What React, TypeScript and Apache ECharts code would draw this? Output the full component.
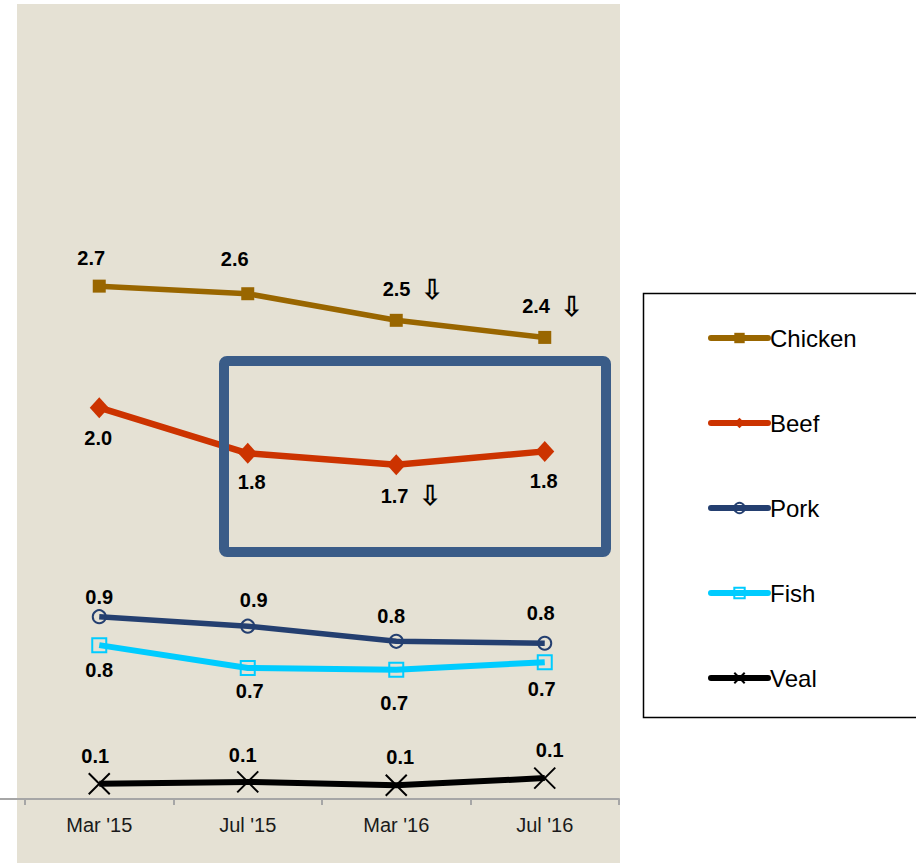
import React, { useEffect, useRef } from 'react';
import * as echarts from 'echarts';

const categories = ["Mar '15", "Jul '15", "Mar '16", "Jul '16"];
const seriesNames = ['Chicken', 'Beef', 'Pork', 'Fish', 'Veal'];

const chicken = [2.68, 2.64, 2.5, 2.41];
const beef = [2.04, 1.8, 1.74, 1.81];
const pork = [0.94, 0.89, 0.81, 0.8];
const fish = [0.79, 0.67, 0.66, 0.7];
const veal = [0.06, 0.07, 0.052, 0.09];

// points whose value fell since the previous reading
const chickenDown = [false, false, true, true];
const beefDown = [false, false, true, false];
const noArrows = [false, false, false, false];

// label placement relative to each marker [dx, dy]
const chickenLabelPos = [[-8, -28], [-13, -35], [17, -31], [8, -31]];
const beefLabelPos = [[-1, 30], [4, 29], [15, 31], [-1, 30]];
const porkLabelPos = [[0, -20], [6, -26], [-5, -25], [-4, -30]];
const fishLabelPos = [[0, 25], [2, 23], [-2, 33], [-3, 27]];
const vealLabelPos = [[-4, -28], [-5, -27], [4, -28], [5, -28]];

const FONT = "'Liberation Sans', Arial, Helvetica, sans-serif";

const makeData = (values: number[], offsets: number[][], arrows: boolean[]) =>
  values.map((v, i) => ({
    value: v,
    label: {
      offset: offsets[i],
      formatter: arrows[i] ? `{v|${v.toFixed(1)}}{a|⇩}` : `{v|${v.toFixed(1)}}`,
    },
  }));

const labelBase = {
  show: true,
  position: 'inside',
  rich: {
    v: { fontSize: 20, fontWeight: 'bold', color: '#000', fontFamily: FONT, verticalAlign: 'middle' },
    a: {
      fontSize: 28,
      fontWeight: 'bold',
      color: '#000',
      fontFamily: "'DejaVu Sans', sans-serif",
      padding: [0, 0, 0, 10],
      verticalAlign: 'middle',
    },
  },
};

export default function App() {
  const ref = useRef<HTMLDivElement>(null);

  useEffect(() => {
    if (!ref.current) return;
    const chart = echarts.init(ref.current, null, { renderer: 'svg' });

    const option = {
      animation: false,
      backgroundColor: '#ffffff',
      grid: { left: 25, right: 297, top: 5, bottom: 64 },
      xAxis: {
        type: 'category',
        data: categories,
        boundaryGap: true,
        axisLine: { show: true, onZero: false, lineStyle: { color: '#A6A6A6', width: 2 } },
        axisTick: { show: true, length: 6, lineStyle: { color: '#A6A6A6', width: 2 } },
        axisLabel: { margin: 16, fontSize: 20, color: '#1a1a1a', fontFamily: FONT },
        splitLine: { show: false },
      },
      yAxis: {
        type: 'value',
        min: -0.02,
        max: 4.16,
        show: false,
      },
      legend: {
        orient: 'vertical',
        left: 708,
        top: 326,
        padding: 0,
        itemWidth: 57,
        itemHeight: 13,
        itemGap: 61,
        data: seriesNames,
        lineStyle: { width: 6, cap: 'round' },
        textStyle: { fontSize: 24, lineHeight: 24, color: '#000', fontFamily: FONT, padding: [0, 0, 0, -3] },
      },
      graphic: [
        {
          type: 'rect',
          z: -10,
          silent: true,
          shape: { x: 17, y: 4, width: 603, height: 859 },
          style: { fill: '#E5E1D4' },
        },
        {
          type: 'line',
          z: -5,
          silent: true,
          shape: { x1: 0, y1: 799, x2: 26, y2: 799 },
          style: { stroke: '#A6A6A6', lineWidth: 2 },
        },
        {
          type: 'rect',
          z: -5,
          silent: true,
          shape: { x: 643.5, y: 293.5, width: 290, height: 424 },
          style: { fill: '#ffffff', stroke: '#000000', lineWidth: 1.5 },
        },
        {
          type: 'rect',
          z: 100,
          silent: true,
          shape: { x: 224, y: 361, width: 382, height: 191, r: 3 },
          style: { fill: 'none', stroke: '#3A5C88', lineWidth: 10 },
        },
      ],
      series: [
        {
          name: 'Chicken',
          type: 'line',
          data: makeData(chicken, chickenLabelPos, chickenDown),
          symbol: 'rect',
          symbolSize: 13,
          lineStyle: { color: '#996600', width: 5.5 },
          itemStyle: { color: '#996600' },
          label: labelBase,
        },
        {
          name: 'Beef',
          type: 'line',
          data: makeData(beef, beefLabelPos, beefDown),
          symbol: 'diamond',
          symbolSize: [19, 21],
          lineStyle: { color: '#CC3300', width: 6.5 },
          itemStyle: { color: '#CC3300' },
          label: labelBase,
        },
        {
          name: 'Pork',
          type: 'line',
          data: makeData(pork, porkLabelPos, noArrows),
          symbol: 'circle',
          symbolSize: 13,
          lineStyle: { color: '#243F70', width: 5.5 },
          itemStyle: { color: 'rgba(0,0,0,0)', borderColor: '#243F70', borderWidth: 2 },
          label: labelBase,
        },
        {
          name: 'Fish',
          type: 'line',
          data: makeData(fish, fishLabelPos, noArrows),
          symbol: 'rect',
          symbolSize: 14,
          lineStyle: { color: '#00CCFF', width: 6 },
          itemStyle: { color: 'rgba(0,0,0,0)', borderColor: '#00CCFF', borderWidth: 2 },
          label: labelBase,
        },
        {
          name: 'Veal',
          type: 'line',
          data: makeData(veal, vealLabelPos, noArrows),
          symbol: 'path://M0,0L20,20M20,0L0,20',
          symbolSize: 21,
          lineStyle: { color: '#000000', width: 6 },
          itemStyle: { color: '#000000', borderColor: '#000000', borderWidth: 2 },
          label: labelBase,
        },
      ],
    };

    chart.setOption(option as any);
    return () => chart.dispose();
  }, []);

  return (
    <div
      ref={ref}
      style={{ position: 'fixed', left: 0, top: 0, width: 916, height: 863, background: '#fff' }}
    />
  );
}
